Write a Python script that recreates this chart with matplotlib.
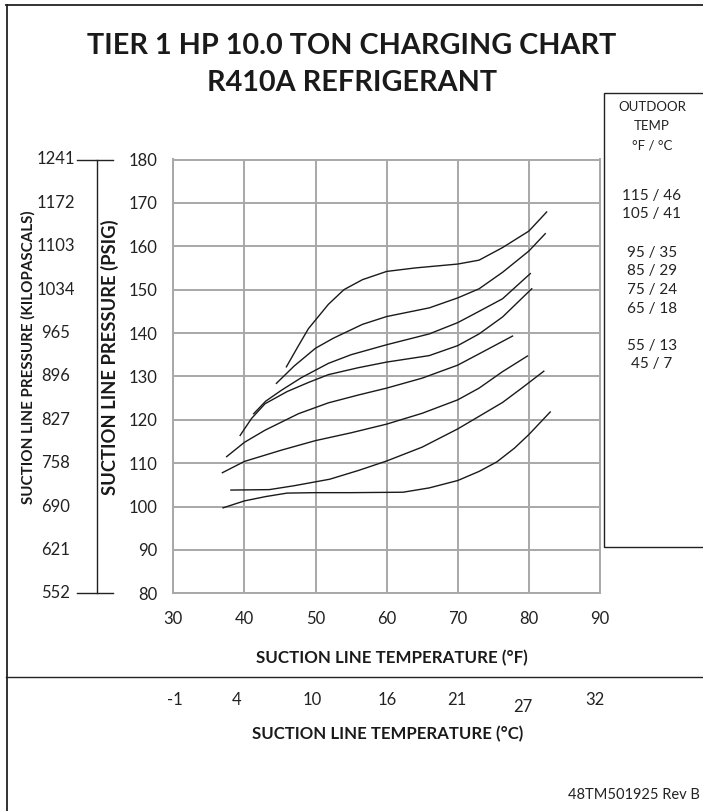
import matplotlib
matplotlib.use("Agg")
import matplotlib.pyplot as plt
from matplotlib import font_manager
from matplotlib.lines import Line2D
from matplotlib.patches import Rectangle
from matplotlib.transforms import blended_transform_factory

W, H = 703, 811
FONT = ["Lato", "DejaVu Sans"]
plt.rcParams["font.family"] = FONT

# ---------------- data ----------------
title_lines = ["TIER 1 HP 10.0 TON CHARGING CHART", "R410A REFRIGERANT"]
temp_f_ticks = [30, 40, 50, 60, 70, 80, 90]
temp_c_labels = ["-1", "4", "10", "16", "21", "27", "32"]
psig_ticks = [80, 90, 100, 110, 120, 130, 140, 150, 160, 170, 180]
kpa_labels = ["552", "621", "690", "758", "827", "896", "965", "1034", "1103", "1172", "1241"]
outdoor_labels = ["115 / 46", "105 / 41", "95 / 35", "85 / 29", "75 / 24", "65 / 18", "55 / 13", "45 / 7"]

c115_x = [45.9, 47.5, 49.0, 51.8, 54.0, 56.6, 60.0, 64.0, 70.0, 73.0, 76.3, 80.0, 82.5]
c115_y = [132.2, 136.8, 141.0, 146.6, 150.0, 152.3, 154.2, 155.0, 155.9, 156.8, 159.7, 163.5, 167.9]
c105_x = [44.5, 47.0, 50.0, 52.5, 56.6, 60.0, 66.0, 70.0, 73.0, 76.3, 80.0, 82.3]
c105_y = [128.4, 132.4, 136.5, 138.8, 142.0, 143.8, 145.8, 148.1, 150.2, 154.0, 158.9, 162.9]
c95_x = [41.3, 43.0, 45.2, 48.0, 51.8, 55.0, 60.0, 66.0, 70.0, 73.0, 76.3, 80.2]
c95_y = [121.4, 124.3, 126.8, 129.7, 133.0, 135.0, 137.3, 139.8, 142.4, 145.0, 147.9, 153.7]
c85_x = [39.4, 41.0, 42.9, 46.0, 49.0, 51.8, 56.0, 60.0, 66.0, 70.0, 73.0, 76.3, 80.4]
c85_y = [116.4, 120.3, 123.7, 126.5, 128.6, 130.4, 132.0, 133.3, 134.8, 137.1, 139.8, 143.7, 150.2]
c75_x = [37.5, 40.0, 42.9, 47.6, 51.8, 56.0, 60.0, 65.0, 70.0, 73.0, 77.7]
c75_y = [111.5, 114.8, 117.6, 121.4, 123.9, 125.7, 127.3, 129.6, 132.6, 135.2, 139.3]
c65_x = [36.9, 40.0, 45.2, 50.0, 55.0, 60.0, 65.0, 70.0, 73.0, 76.3, 79.8]
c65_y = [107.8, 110.4, 113.0, 115.2, 117.0, 119.0, 121.5, 124.6, 127.3, 131.1, 134.7]
c55_x = [38.1, 43.5, 47.0, 52.0, 56.0, 60.0, 65.0, 70.0, 73.0, 76.3, 79.0, 82.1]
c55_y = [103.8, 103.9, 104.8, 106.3, 108.3, 110.5, 113.7, 117.9, 120.8, 124.0, 127.3, 131.2]
c45_x = [37.0, 40.0, 43.0, 46.0, 50.0, 55.0, 62.3, 66.0, 70.0, 73.0, 75.5, 78.0, 80.0, 83.0]
c45_y = [99.7, 101.3, 102.3, 103.1, 103.2, 103.2, 103.3, 104.3, 106.0, 108.1, 110.3, 113.5, 116.6, 121.8]

curves = [(c115_x, c115_y), (c105_x, c105_y), (c95_x, c95_y), (c85_x, c85_y),
          (c75_x, c75_y), (c65_x, c65_y), (c55_x, c55_y), (c45_x, c45_y)]

# ---------------- layout ----------------
def fx(x):
    return x / W

def fy(y):
    return 1 - y / H

fig = plt.figure(figsize=(W / 100, H / 100), dpi=100)
fig.patch.set_facecolor("white")
renderer = fig.canvas.get_renderer()


def fit(text_obj, target_px, vertical=False):
    bb = text_obj.get_window_extent(renderer)
    size = bb.height if vertical else bb.width
    if size > 0:
        text_obj.set_fontsize(text_obj.get_fontsize() * target_px / size)


installed = {f.name for f in font_manager.fontManager.ttflist}
narrow = ["Liberation Sans Narrow", "Lato"] if "Liberation Sans Narrow" in installed else FONT

L, R, T, B = 173.3, 600.0, 159.5, 593.3
ax = fig.add_axes([fx(L), fy(B), (R - L) / W, (B - T) / H])
ax.set_xlim(30, 90)
ax.set_ylim(80, 180)
ax.set_xticks(temp_f_ticks)
ax.set_yticks(psig_ticks)
ax.grid(True, color="#a8a8a8", linewidth=1.4)
for s in ax.spines.values():
    s.set_color("#a8a8a8")
    s.set_linewidth(1.4)
ax.tick_params(length=0, labelsize=12, colors="#222222")
ax.tick_params(axis="y", pad=11.5)
ax.tick_params(axis="x", pad=13)
ax.set_axisbelow(True)

for cx, cy in curves:
    ax.plot(cx, cy, color="#1a1a1a", linewidth=1.0)

# outer frame and separator
fig.add_artist(Line2D([fx(6.5), fx(6.5)], [fy(5), fy(811)], color="#222222", lw=1.3))
fig.add_artist(Line2D([fx(6), fx(703)], [fy(5), fy(5)], color="#222222", lw=1.3))
fig.add_artist(Line2D([fx(6), fx(703)], [fy(677), fy(677)], color="#222222", lw=1.0))

# title
t1 = fig.text(fx(352), fy(46), title_lines[0], ha="center", va="center",
              fontsize=20.9, fontweight="bold", color="#1a1a1a")
fit(t1, 528)
fig.text(fx(352), fy(83), title_lines[1], ha="center", va="center",
         fontsize=t1.get_fontsize(), fontweight="bold", color="#1a1a1a")

# kPa scale
fig.add_artist(Line2D([fx(97), fx(97)], [fy(T), fy(B)], color="#222222", lw=1.0))
fig.add_artist(Line2D([fx(77), fx(113)], [fy(T), fy(T)], color="#222222", lw=1.0))
fig.add_artist(Line2D([fx(77), fx(113)], [fy(B), fy(B)], color="#222222", lw=1.0))
tr_y = blended_transform_factory(fig.transFigure, ax.transData)
for val, lab in zip(psig_ticks, kpa_labels):
    fig.text(fx(55.5), val, lab, transform=tr_y, ha="center", va="center",
             fontsize=12, color="#222222")

tk = fig.text(fx(28), fy(357), "SUCTION LINE PRESSURE (KILOPASCALS)", rotation=90,
              ha="center", va="center", fontsize=11, fontweight="bold", color="#1a1a1a",
              family=narrow)
fit(tk, 293, vertical=True)
tp = fig.text(fx(110), fy(357), "SUCTION LINE PRESSURE (PSIG)", rotation=90,
              ha="center", va="center", fontsize=13.2, fontweight="bold", color="#1a1a1a")
fit(tp, 277, vertical=True)

# bottom axis titles and celsius scale
tf = fig.text(fx(392), fy(658), "SUCTION LINE TEMPERATURE (°F)", ha="center", va="center",
              fontsize=12.2, fontweight="bold", color="#1a1a1a")
fit(tf, 271)
tr_x = blended_transform_factory(ax.transData, fig.transFigure)
c_offsets = [1.7, -7.4, -3.1, 0.3, -0.8, -5.9, -5.0]
for f, lab, dx in zip(temp_f_ticks, temp_c_labels, c_offsets):
    ypos = 707 if lab == "27" else 700
    fig.text(f + dx / 7.11, fy(ypos), lab, transform=tr_x, ha="center", va="center",
             fontsize=12, color="#222222")
tc = fig.text(fx(388), fy(734), "SUCTION LINE TEMPERATURE (°C)", ha="center", va="center",
              fontsize=12.2, fontweight="bold", color="#1a1a1a")
fit(tc, 270)

fig.text(fx(700), fy(795), "48TM501925 Rev B", ha="right", va="center",
         fontsize=10.5, color="#222222")

# outdoor temp box
fig.add_artist(Rectangle((fx(604), fy(547)), fx(110), (547 - 93) / H,
                         fill=False, edgecolor="#222222", lw=1.0))
for txt, yy in [("OUTDOOR", 107), ("TEMP", 126), ("°F / °C", 145)]:
    fig.text(fx(652), fy(yy), txt, ha="center", va="center", fontsize=9.5, color="#222222")
label_y = [196, 214, 253, 271, 290, 309, 346, 364]
for txt, yy in zip(outdoor_labels, label_y):
    fig.text(fx(652), fy(yy), txt, ha="center", va="center", fontsize=11, color="#222222")

fig.savefig("out.png", dpi=100, facecolor="white")
